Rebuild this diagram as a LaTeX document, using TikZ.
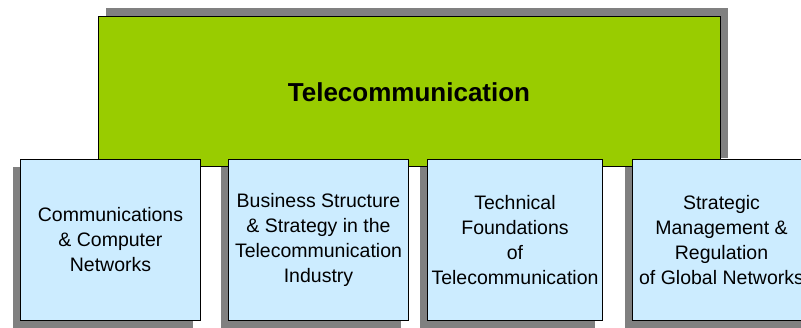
\documentclass[tikz,border=0pt]{standalone}
\usepackage{fontspec}
\setmainfont{Liberation Sans}
\usetikzlibrary{positioning,shadows}
\definecolor{topgreen}{HTML}{99CC00}
\definecolor{subblue}{HTML}{CCECFF}
\definecolor{shadowgray}{HTML}{808080}

\begin{document}
\begin{tikzpicture}[x=1pt,y=1pt,
      topbox/.style={
         draw=black,
         line width=1pt,
         fill=topgreen,
         minimum width=622pt,
         minimum height=150pt,
         inner sep=0pt,
         outer sep=0pt,
         font=\fontsize{26}{30}\selectfont\bfseries,
         general shadow={fill=shadowgray, shadow xshift=8pt, shadow yshift=9pt}},
      subbox/.style={
         draw=black,
         line width=1pt,
         fill=subblue,
         minimum width=180pt,
         minimum height=161pt,
         inner sep=0pt,
         outer sep=0pt,
         align=center,
         font=\fontsize{19.5}{25}\selectfont,
         general shadow={fill=shadowgray, shadow xshift=-8pt, shadow yshift=-8pt}}
      ]
      \useasboundingbox (0,0) rectangle (801,327);
      \node[topbox] (tele) at (409,235) {Telecommunication};
      \node[subbox] (b1) at (110.5,87) {Communications\\\& Computer\\Networks};
      \node[subbox,right=28pt of b1] (b2) {Business Structure\\\& Strategy in the\\Telecommunication\\Industry};
      \node[subbox,minimum width=175pt,right=19pt of b2] (b3) {Technical\\Foundations\\of\\Telecommunication};
      \node[subbox,minimum width=178pt,right=30pt of b3] (b4) {Strategic\\Management \&\\Regulation\\of Global Networks};
    \end{tikzpicture}
\end{document}
